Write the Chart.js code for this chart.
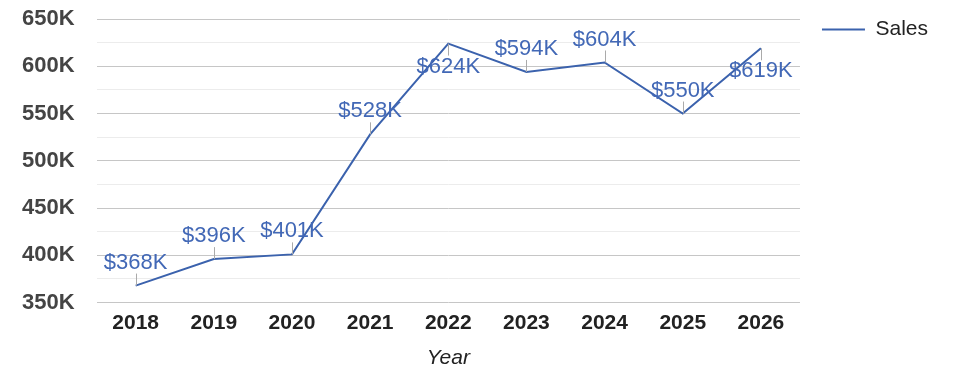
<!DOCTYPE html>
<html>
<head>
<meta charset="utf-8">
<script src="https://cdn.jsdelivr.net/npm/chart.js@4.4.0/dist/chart.umd.min.js"></script>
<style>
  html, body { margin: 0; padding: 0; background: #fff; }
  #wrap { width: 975px; height: 378px; }
</style>
</head>
<body>
<div id="wrap"><canvas id="salesChart"></canvas></div>
<script>
const years = ['2018', '2019', '2020', '2021', '2022', '2023', '2024', '2025', '2026'];
const sales = [368000, 396000, 401000, 528000, 624000, 594000, 604000, 550000, 619000];
const yMin = 350000;
const yMax = 650000;
const yStep = 25000;
const yMajor = 50000;

const lineColor = '#3b62ad';
const labelColor = '#4268b6';
const FONT = '"Liberation Sans", Arial, sans-serif';
// indices whose value label sits under the point
const labelsBelow = [4, 8];

const fmtK = v => '$' + Math.round(v / 1000) + 'K';

const valueLabels = {
  id: 'valueLabels',
  afterDatasetsDraw(chart) {
    const ctx = chart.ctx;
    const meta = chart.getDatasetMeta(0);
    ctx.save();
    ctx.font = '22px ' + FONT;
    ctx.textAlign = 'center';
    ctx.textBaseline = 'middle';
    meta.data.forEach((pt, i) => {
      const dir = labelsBelow.includes(i) ? 1 : -1;
      ctx.strokeStyle = '#aaaaaa';
      ctx.lineWidth = 1;
      ctx.beginPath();
      ctx.moveTo(Math.round(pt.x) + 0.5, pt.y);
      ctx.lineTo(Math.round(pt.x) + 0.5, pt.y + dir * 12);
      ctx.stroke();
      ctx.fillStyle = labelColor;
      ctx.fillText(fmtK(sales[i]), pt.x, pt.y + dir * 23);
    });
    ctx.restore();
  }
};

new Chart(document.getElementById('salesChart'), {
  type: 'line',
  data: {
    labels: years,
    datasets: [{
      label: 'Sales',
      data: sales,
      borderColor: lineColor,
      backgroundColor: lineColor,
      borderWidth: 2,
      pointRadius: 0,
      pointHoverRadius: 0,
      tension: 0,
      pointStyle: 'line'
    }]
  },
  options: {
    responsive: true,
    maintainAspectRatio: false,
    animation: false,
    layout: { padding: { left: 0, top: -3, right: 37, bottom: 7 } },
    plugins: {
      tooltip: { enabled: false },
      legend: {
        position: 'right',
        align: 'start',
        labels: {
          usePointStyle: true,
          pointStyleWidth: 43,
          color: '#222',
          padding: 22,
          font: { family: FONT, size: 21 }
        }
      }
    },
    scales: {
      x: {
        offset: true,
        grid: { display: false, drawTicks: false },
        border: { display: false },
        ticks: {
          color: '#222',
          padding: 8,
          font: { family: FONT, size: 21, weight: 'bold' }
        },
        title: {
          display: true,
          text: 'Year',
          color: '#222',
          padding: { top: 2, bottom: 0 },
          font: { family: FONT, size: 21, style: 'italic' }
        }
      },
      y: {
        min: yMin,
        max: yMax,
        border: { display: false },
        grid: {
          drawTicks: false,
          color: c => (c.tick && c.tick.value % yMajor === 0) ? '#c6c6c6' : '#ececec'
        },
        ticks: {
          stepSize: yStep,
          autoSkip: false,
          padding: 22,
          color: '#444',
          font: { family: FONT, size: 22, weight: 'bold' },
          callback: v => v % yMajor === 0 ? (v / 1000) + 'K' : ''
        },
        afterFit: s => { s.paddingTop = 19; s.paddingBottom = 10; }
      }
    }
  },
  plugins: [valueLabels]
});
</script>
</body>
</html>
